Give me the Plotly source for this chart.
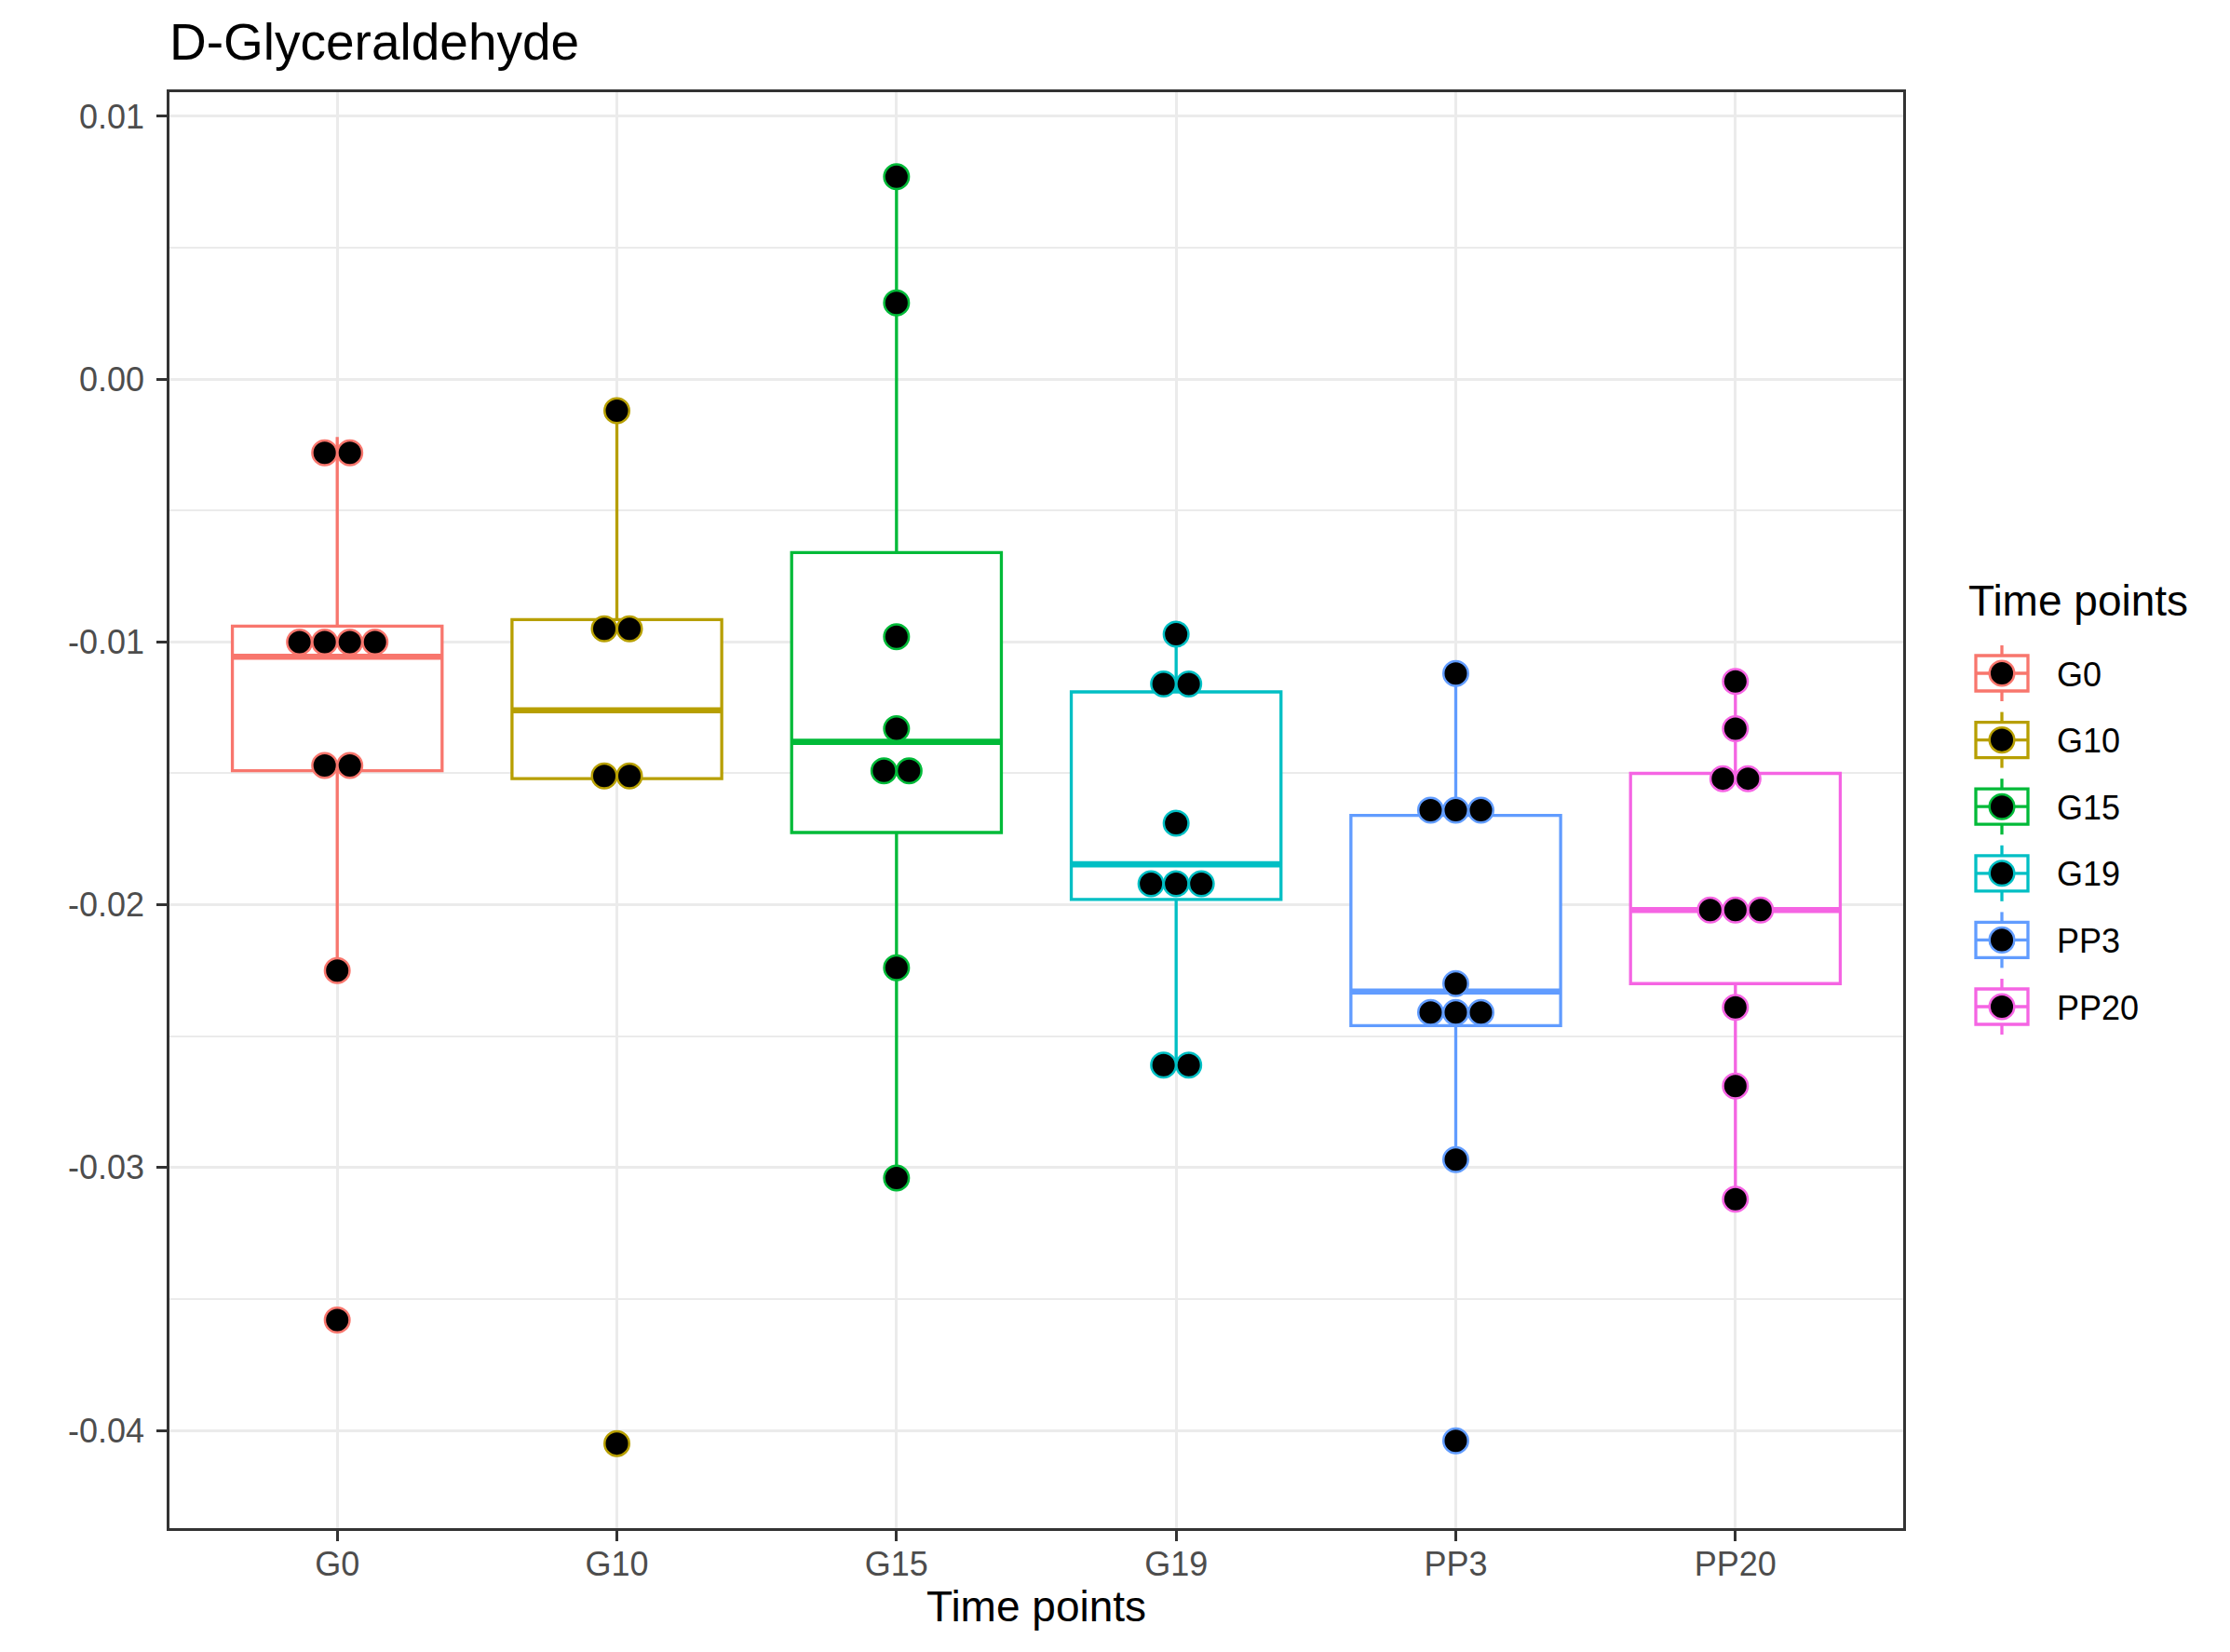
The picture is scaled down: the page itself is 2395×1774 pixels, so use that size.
import plotly.graph_objects as go

# ---------------- data ----------------
categories = ["G0", "G10", "G15", "G19", "PP3", "PP20"]
colors = ["#F8766D", "#B79F00", "#00BA38", "#00BFC4", "#619CFF", "#F564E3"]

box_q1 = [-0.0149, -0.0152, -0.01725, -0.0198, -0.0246, -0.0230]
box_median = [-0.01056, -0.0126, -0.0138, -0.01846, -0.0233, -0.0202]
box_q3 = [-0.0094, -0.00915, -0.0066, -0.0119, -0.0166, -0.0150]
whisker_low = [-0.0225, -0.0152, -0.0304, -0.0261, -0.0297, -0.0312]
whisker_high = [-0.0022, -0.0012, 0.0077, -0.0097, -0.0112, -0.0115]

dots_G0 = [-0.0028, -0.0028, -0.0100, -0.0100, -0.0100, -0.0100,
           -0.0147, -0.0147, -0.0225, -0.0358]
dots_G10 = [-0.0012, -0.0095, -0.0095, -0.0151, -0.0151, -0.0405]
dots_G15 = [0.0077, 0.0029, -0.0098, -0.0133, -0.0149, -0.0149,
            -0.0224, -0.0304]
dots_G19 = [-0.0097, -0.0116, -0.0116, -0.0169, -0.0192, -0.0192,
            -0.0192, -0.0261, -0.0261]
dots_PP3 = [-0.0112, -0.0164, -0.0164, -0.0164, -0.0230, -0.0241,
            -0.0241, -0.0241, -0.0297, -0.0404]
dots_PP20 = [-0.0115, -0.0133, -0.0152, -0.0152, -0.0202, -0.0202,
             -0.0202, -0.0239, -0.0269, -0.0312]
dots = [dots_G0, dots_G10, dots_G15, dots_G19, dots_PP3, dots_PP20]

y_tickvals = [0.01, 0.00, -0.01, -0.02, -0.03, -0.04]
y_ticktext = ["0.01", "0.00", "-0.01", "-0.02", "-0.03", "-0.04"]

title_text = "D-Glyceraldehyde"
x_title = "Time points"
legend_title = "Time points"

# ---------------- styling constants ----------------
W, H = 2395, 1774
L, R, T, B = 182, 2044, 99, 1641  # plot area in pixels
FONT = "Liberation Sans"
BOX_W = 0.75
DOT_STEP = 0.09
LINE_W = 3.3
GRID = "#EBEBEB"
DARK = "#333333"
TICK_FS = 36
BASE_FS = 46
TITLE_FS = 55


def px_x(px):
    return (px - L) / (R - L)


def px_y(py):
    return (B - py) / (B - T)


fig = go.Figure()

# boxes
for i, cat in enumerate(categories):
    fig.add_trace(go.Box(
        x=[i], q1=[box_q1[i]], median=[box_median[i]], q3=[box_q3[i]],
        lowerfence=[whisker_low[i]], upperfence=[whisker_high[i]],
        width=BOX_W, whiskerwidth=0, fillcolor="white",
        line=dict(color=colors[i], width=LINE_W),
        boxpoints=False, showlegend=False, name=cat, hoverinfo="skip"))

# thicker median lines
for i, cat in enumerate(categories):
    fig.add_trace(go.Scatter(
        x=[i - BOX_W / 2, i + BOX_W / 2], y=[box_median[i], box_median[i]],
        mode="lines", line=dict(color=colors[i], width=2 * LINE_W),
        showlegend=False, hoverinfo="skip"))

# dot-plot stacks
for i, cat in enumerate(categories):
    xs, ys = [], []
    vals = dots[i]
    uniq = []
    for v in vals:
        if v not in uniq:
            uniq.append(v)
    for v in uniq:
        n = vals.count(v)
        for k in range(n):
            xs.append(i + (k - (n - 1) / 2) * DOT_STEP)
            ys.append(v)
    fig.add_trace(go.Scatter(
        x=xs, y=ys, mode="markers",
        marker=dict(size=26.5, color="black",
                    line=dict(color=colors[i], width=2.5)),
        showlegend=False, hoverinfo="skip"))

# ---------------- manual legend ----------------
shapes = []
annotations = []
cx = 2150
cy0 = 723
step = 71.6
for k, cat in enumerate(categories):
    cy = cy0 + k * step
    c = colors[k]
    shapes.append(dict(type="line", xref="paper", yref="paper",
                       x0=px_x(cx), x1=px_x(cx), y0=px_y(cy - 30), y1=px_y(cy + 30),
                       line=dict(color=c, width=LINE_W)))
    shapes.append(dict(type="rect", xref="paper", yref="paper",
                       x0=px_x(cx - 28), x1=px_x(cx + 28), y0=px_y(cy - 19), y1=px_y(cy + 19),
                       fillcolor="white", line=dict(color=c, width=LINE_W)))
    shapes.append(dict(type="line", xref="paper", yref="paper",
                       x0=px_x(cx - 28), x1=px_x(cx + 28), y0=px_y(cy), y1=px_y(cy),
                       line=dict(color=c, width=LINE_W)))
    shapes.append(dict(type="circle", xref="paper", yref="paper",
                       x0=px_x(cx - 13.3), x1=px_x(cx + 13.3),
                       y0=px_y(cy - 13.3), y1=px_y(cy + 13.3),
                       fillcolor="black", line=dict(color=c, width=2.5)))
    annotations.append(dict(text=cat, xref="paper", yref="paper",
                            x=px_x(2207), y=px_y(cy + 1), xanchor="left", yanchor="middle",
                            showarrow=False, font=dict(family=FONT, size=36, color="black")))

annotations.append(dict(text=legend_title, xref="paper", yref="paper",
                        x=px_x(2112), y=px_y(645), xanchor="left", yanchor="middle",
                        showarrow=False, font=dict(family=FONT, size=BASE_FS, color="black")))
annotations.append(dict(text=title_text, xref="paper", yref="paper",
                        x=px_x(180), y=px_y(45), xanchor="left", yanchor="middle",
                        showarrow=False, font=dict(family=FONT, size=TITLE_FS, color="black")))
annotations.append(dict(text=x_title, xref="paper", yref="paper",
                        x=0.5, y=px_y(1725), xanchor="center", yanchor="middle",
                        showarrow=False, font=dict(family=FONT, size=BASE_FS, color="black")))

minor_y = [(y_tickvals[j] + y_tickvals[j + 1]) / 2 for j in range(len(y_tickvals) - 1)]

fig.update_layout(
    width=W, height=H,
    margin=dict(l=L, r=W - R, t=T, b=H - B, pad=0),
    paper_bgcolor="white", plot_bgcolor="white",
    boxmode="overlay", showlegend=False,
    shapes=shapes, annotations=annotations,
    font=dict(family=FONT),
)
fig.update_xaxes(
    range=[-0.6, 5.6], tickmode="array", tickvals=list(range(len(categories))),
    ticktext=categories, showgrid=True, gridcolor=GRID, gridwidth=LINE_W,
    zeroline=False, showline=True, mirror=True, linecolor=DARK, linewidth=2.5,
    ticks="outside", ticklen=11, tickwidth=2.5, tickcolor=DARK,
    tickfont=dict(family=FONT, size=TICK_FS, color="#4D4D4D"), ticklabelstandoff=-6,
)
fig.update_yaxes(
    range=[-0.04372, 0.01092], tickmode="array", tickvals=y_tickvals,
    ticktext=y_ticktext, showgrid=True, gridcolor=GRID, gridwidth=LINE_W,
    minor=dict(tickmode="array", tickvals=minor_y, showgrid=True,
               gridcolor=GRID, gridwidth=1.7, ticks=""),
    zeroline=False, showline=True, mirror=True, linecolor=DARK, linewidth=2.5,
    ticks="outside", ticklen=11, tickwidth=2.5, tickcolor=DARK,
    tickfont=dict(family=FONT, size=TICK_FS, color="#4D4D4D"), ticklabelstandoff=6,
)

fig.write_html("out.html", config={"displayModeBar": False},
               post_script="document.body.style.margin='0px';document.body.style.padding='0px';")
